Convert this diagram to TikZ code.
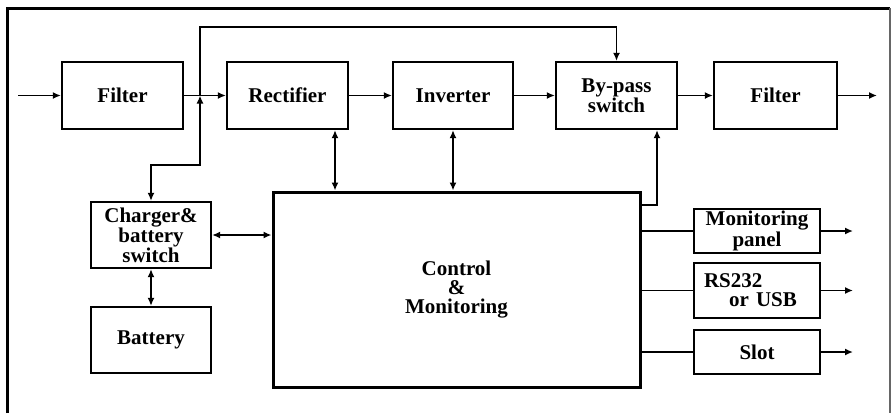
\documentclass[tikz,border=0pt]{standalone}
\usepackage{fontspec}
\setmainfont{Liberation Serif}
\usetikzlibrary{arrows.meta}
\begin{document}
\begin{tikzpicture}[x=1pt,y=-1pt,
  box/.style={draw,line width=2.2pt,rectangle,inner sep=1pt,align=center,
    font=\fontsize{21}{19}\selectfont\bfseries},
  conn/.style={line width=1.6pt},
  arr/.style={conn,-{Latex[length=8pt,width=7pt]}},
  darr/.style={conn,{Latex[length=8pt,width=7pt]}-{Latex[length=8pt,width=7pt]}}]
\useasboundingbox (0,0) rectangle (893,413);
% frame
\draw[line width=3pt] (7,413) -- (7,8) -- (890,8);
\draw[line width=1.5pt,black!60] (890,8) -- (890,413);
% nodes
\node[box,minimum width=121pt,minimum height=67pt] (f1) at (122.5,95.5) {Filter};
\node[box,minimum width=121pt,minimum height=67pt] (rect) at (287.5,95.5) {Rectifier};
\node[box,minimum width=120pt,minimum height=67pt] (inv) at (453,95.5) {Inverter};
\node[box,minimum width=121pt,minimum height=67pt] (byp) at (616.5,95.5) {By-pass\\switch};
\node[box,minimum width=123pt,minimum height=67pt] (f2) at (775.5,95.5) {Filter};
\node[box,minimum width=120pt,minimum height=66pt] (chg) at (151,235) {Charger\&\\battery\\switch};
\node[box,minimum width=120pt,minimum height=66pt] (bat) at (151,340) {Battery};
\node[box,line width=3pt,minimum width=367pt,minimum height=195pt] (ctrl) at (456.5,289.5) {Control\\\&\\Monitoring};
\node[box,minimum width=126pt,minimum height=44pt] (mon) at (757,231) {Monitoring\\panel};
\node[box,minimum width=126pt,minimum height=55pt,align=left,text width=106pt] (rs) at (757,290.5) {RS232\\\hspace*{1.2em}or USB};
\node[box,minimum width=126pt,minimum height=44pt] (slot) at (757,352) {Slot};
% coordinates
\coordinate (in) at (18,95.5);
\coordinate (out) at (877,95.5);
\coordinate (j) at (200,95.5);
\coordinate (top) at (200,27);
\coordinate (low) at (200,165);
\coordinate (xr) at (335,0);
\coordinate (xb) at (657,0);
\coordinate (yb) at (0,205);
\coordinate (xo) at (853,0);
% main chain
\draw[arr] (in) -- (f1);
\draw[arr] (f1) -- (rect);
\draw[arr] (rect) -- (inv);
\draw[arr] (inv) -- (byp);
\draw[arr] (byp) -- (f2);
\draw[arr] (f2) -- (out);
% bypass line
\draw[arr] (j) -- (top) -| (byp.north);
\draw[darr] (j) -- (low) -| (chg.north);
% control links
\draw[darr] (rect.south -| xr) -- (ctrl.north -| xr);
\draw[darr] (inv.south) -- (ctrl.north -| inv.south);
\draw[arr] (ctrl.east |- yb) -- (xb |- yb) -- (byp.south -| xb);
\draw[darr] (chg.east) -- (chg.east -| ctrl.west);
\draw[darr] (chg.south) -- (bat.north);
% outputs
\draw[conn] (mon.west -| ctrl.east) -- (mon.west);
\draw[conn] (rs.west -| ctrl.east) -- (rs.west);
\draw[conn] (slot.west -| ctrl.east) -- (slot.west);
\draw[arr] (mon.east) -- (mon.east -| xo);
\draw[arr] (rs.east) -- (rs.east -| xo);
\draw[arr] (slot.east) -- (slot.east -| xo);
\end{tikzpicture}
\end{document}
